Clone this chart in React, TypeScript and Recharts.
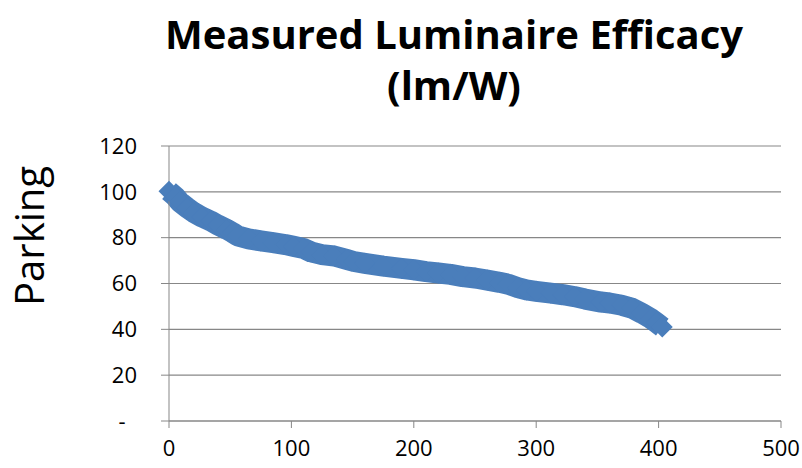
import React from 'react';
import { LineChart, Line, XAxis, YAxis, CartesianGrid } from 'recharts';

// sorted luminaire efficacy readings (lm/W)
const effX = [0, 5, 9, 15, 20, 27, 34, 40, 47, 52, 56, 65, 75, 85, 95, 102, 110, 116, 125, 135, 145, 151, 160, 175, 190, 200, 210, 220, 230, 240, 250, 260, 270, 277, 285, 292, 300, 312, 322, 331, 340, 353, 360, 370, 378, 386, 394, 398, 403];
const effY = [100.3, 98, 95.5, 93, 91.1, 89, 87.3, 85.5, 83.7, 82.2, 80.8, 79.5, 78.6, 77.8, 77, 76.2, 75.3, 73.8, 72.6, 72, 70.5, 69.6, 68.8, 67.6, 66.6, 66, 65.2, 64.6, 64, 63, 62.4, 61.5, 60.5, 59.7, 58.2, 57.2, 56.6, 55.8, 55.1, 54.3, 53.2, 51.9, 51.5, 50.5, 49.3, 47.1, 44.6, 43, 41];

const xTicks = [0, 100, 200, 300, 400, 500];
const yTicks = [0, 20, 40, 60, 80, 100, 120];

const BLUE = '#4A7EBB';
const GRID = '#878787';
const FONT = '"Open Sans", sans-serif';

const data = effX.map((x, i) => ({ x, y: effY[i] }));

const Diamond = (props: any) => {
  const { cx, cy, index } = props;
  if (cx == null || cy == null) return <g key={index} />;
  const r = 10.5;
  return (
    <path
      key={`d-${index}`}
      d={`M${cx},${cy - r}L${cx + r},${cy}L${cx},${cy + r}L${cx - r},${cy}Z`}
      fill={BLUE}
    />
  );
};

const App: React.FC = () => {
  return (
    <div style={{ position: 'relative', width: 802, height: 468, background: '#fff', fontFamily: FONT }}>
      <style>{'body{margin:0}'}</style>
      <div
        style={{
          position: 'absolute',
          left: 154,
          top: 8,
          width: 600,
          textAlign: 'center',
          fontSize: 40,
          fontWeight: 700,
          lineHeight: '51px',
          color: '#000',
        }}
      >
        Measured Luminaire Efficacy
        <br />
        (lm/W)
      </div>
      <div
        style={{
          position: 'absolute',
          left: 28,
          top: 236,
          transform: 'translate(-50%, -50%) rotate(-90deg)',
          fontSize: 40,
          whiteSpace: 'nowrap',
          color: '#000',
        }}
      >
        Parking
      </div>
      <LineChart width={802} height={468} data={data} margin={{ top: 146, right: 21, bottom: 17, left: 109 }}>
        <CartesianGrid vertical={false} stroke={GRID} strokeWidth={1.2} />
        <XAxis
          dataKey="x"
          type="number"
          domain={[0, 500]}
          ticks={xTicks}
          height={30}
          tickSize={7}
          tickMargin={12}
          stroke={GRID}
          tick={{ fill: '#000', fontSize: 22, fontFamily: FONT }}
        />
        <YAxis
          type="number"
          domain={[0, 120]}
          ticks={yTicks}
          width={60}
          tickSize={8}
          tickMargin={24}
          stroke={GRID}
          tickFormatter={(v: number) => (v === 0 ? '-\u00A0\u00A0' : String(v))}
          tick={{ fill: '#000', fontSize: 22, fontFamily: FONT }}
        />
        <Line
          dataKey="y"
          type="linear"
          stroke={BLUE}
          strokeWidth={21}
          strokeLinejoin="round"
          dot={(p: any) => <Diamond {...p} key={`dot-${p.index}`} />}
          activeDot={false}
          isAnimationActive={false}
        />
      </LineChart>
    </div>
  );
};

export default App;
